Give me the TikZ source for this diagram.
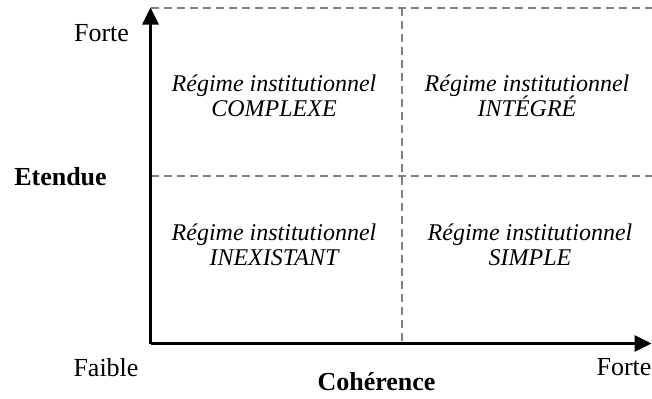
\documentclass[tikz,border=0pt]{standalone}
\usepackage{fontspec}
\setmainfont{Liberation Serif}
\usetikzlibrary{arrows.meta}
\usetikzlibrary{positioning}
\newcommand{\regimefont}{\fontsize{12}{12.5}\selectfont\itshape\setlength{\lineskiplimit}{-20pt}}

\begin{document}
\begin{tikzpicture}[x=0.5pt,y=-0.5pt,
    axis/.style={draw,line width=1.5pt,-{Triangle[length=8.5pt,width=8pt]}},
    grid line/.style={draw=gray,line width=1pt,dash pattern=on 4pt off 2.5pt},
    axis label/.style={anchor=base,inner sep=0pt,font=\fontsize{13}{15}\selectfont},
    axis title/.style={axis label,font=\fontsize{13}{15}\selectfont\bfseries},
    regime/.style={align=center,inner sep=0pt,font=\regimefont}]
    \useasboundingbox (0,0) rectangle (652,398);
    \coordinate (O) at (150.5,343.5);
    \coordinate (ytop) at (150.5,7.5);
    \coordinate (xend) at (651.5,343.5);
    \coordinate (topright) at (652,7.5);
    \coordinate (midtop) at (401.5,7.5);
    \coordinate (midbot) at (401.5,343.5);
    \coordinate (midleft) at (150.5,176);
    \coordinate (midright) at (652,176);
    \draw [grid line] (ytop) -- (topright);
    \draw [grid line] (midtop) -- (midbot);
    \draw [grid line] (midleft) -- (midright);
    \draw [axis] (O) -- (ytop);
    \draw [axis] (O) -- (xend);
    \node [axis label] (yhigh) at (101.5,41.5) {Forte};
    \node [axis title] (ytitle) at (60.5,185) {Etendue};
    \node [axis label] (xlow) at (106,376) {Faible};
    \node [axis label] (xhigh) at (624,375.5) {Forte};
    \node [axis title] (xtitle) at (376.5,390) {Cohérence};
    \node [regime] (complexe) at (274,96) {Régime institutionnel\\COMPLEXE};
    \node [regime] (integre) at (527,96) {Régime institutionnel\\INTÉGRÉ};
    \node [regime] (inexistant) at (274,245) {Régime institutionnel\\INEXISTANT};
    \node [regime] (simple) at (530,245) {Régime institutionnel\\SIMPLE};
\end{tikzpicture}
\end{document}
